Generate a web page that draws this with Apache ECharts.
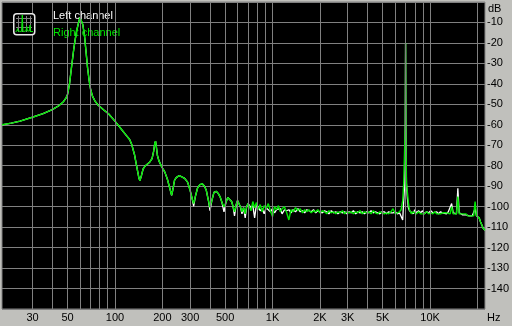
<!DOCTYPE html>
<html><head><meta charset="utf-8">
<script src="https://cdn.jsdelivr.net/npm/echarts@6/dist/echarts.min.js"></script>
<style>html,body{margin:0;padding:0;background:#C0C0BC;overflow:hidden}#c{width:512px;height:326px}</style>
</head><body><div id="c"></div>
<script>
// Frequencies (Hz)
const freqHz = [
  19.2,22,25,30,35,40,44,47,49,50,
  51.5,53,55,57,59,60,61,62.5,64,65.5,
  67,68.5,70,72,75,78,85,91,100,110,
  118,124,128,133,138,142,144,147,151,156,
  166,172,176,179,181,183,186,190,198,207,
  215,222,229,234,239,245,256,265,277,289,
  300,310,316,324,334,345,358,370,380,392,
  401,412,425,440,452,465,478,492,506,520,
  535,550,562,574,588,600,612,625,640,655,
  671,685,700,715,730,
  750,770,790,810,835,860,885,910,940,970,
  1000,1030,1060,1090,1120,1150,1190,1230,1270,1310,
  1350,1400,1450,1500,1550,1600,1650,1700,1760,1820,
  1880,1940,2000,2070,2140,2210,2280,2360,2440,2520,
  2600,2690,2780,2870,2960,3060,3160,3260,3370,3480,
  3590,3710,3830,3960,4090,4220,4360,4500,4650,4800,
  4960,5120,5290,5460,5640,5820,6010,6200,6400,6550,
  6700,6800,6900,6960,6990,7020,7080,7180,7280,7400,
  7600,7800,8000,8200,8450,8700,8950,9200,9500,9800,
  10100,10400,10700,11000,11300,11650,12000,12350,12700,13050,
  13400,13700,14000,14400,14700,15000,15300,15700,16100,16500,
  16900,17300,17700,18100,18500,18900,19300,19700,20100,20500,
  20900,21300,21700,22300
];
// Left channel level (dB)
const leftDb = [
  -60,-59.2,-58.2,-56.3,-54.5,-52.6,-50.7,-48.8,-46.8,-45.2,
  -40,-32,-22,-14.5,-9.5,-7.6,-8.5,-11,-16,-24,
  -32,-38,-42.5,-46,-48.6,-50.3,-52.8,-54.6,-58.2,-62.2,
  -65.2,-67.2,-69.8,-74.5,-81,-86,-87.3,-85,-81.5,-80,
  -78.3,-76.5,-73,-69,-68,-70.5,-75,-77.5,-80.5,-83,
  -86.5,-90.5,-94.5,-91,-87,-85.8,-84.8,-85.4,-86.2,-88,
  -92,-96.5,-99.8,-95,-91,-89.3,-88.8,-90,-92,-97,
  -102,-97,-93,-92.5,-93.5,-95.2,-98,-102.5,-98,-95.5,
  -95.2,-97.5,-100,-104.5,-99,-97,-97.5,-100,-103.5,-100.5,
  -105.5,-100,-98.5,-99,-100.5,
  -99.5,-105.5,-99,-100,-102,-101,-103.5,-100.5,-101.5,-102.5,
  -101,-103,-101.5,-102,-101,-103.5,-101.5,-102,-101.5,-103,
  -101.5,-102.5,-101,-102.5,-102,-103,-101.5,-102,-102.5,-101.5,
  -103,-102,-102.5,-103,-102,-102.5,-103.5,-102,-103,-102.5,
  -103.5,-102.5,-103,-102.5,-103.5,-102.5,-103,-102,-103.5,-102.5,
  -103,-102.5,-103.5,-102.5,-103,-102,-103,-102.5,-103,-103.5,
  -102.5,-102.5,-103.5,-102.5,-103,-103,-102.5,-103.5,-103,-102.5,
  -106.5,-97,-89,-60,-20,-62,-89,-96,-100.5,-102,
  -102.5,-103.5,-101.5,-103,-102,-103,-102,-103.5,-102.5,-103,
  -102,-103,-103.5,-102.5,-103.5,-102.5,-103,-102.5,-103.5,-102.5,
  -103,-98.5,-103,-102.5,-103.5,-91,-103,-103.5,-104,-103.5,
  -104,-103.5,-104.5,-104,-104.5,-104,-101,-104.5,-105,-105.5,
  -107.5,-109,-110.5,-111.5
];
// Right channel level (dB)
const rightDb = [
  -60,-59.2,-58.2,-56.3,-54.5,-52.6,-50.7,-48.8,-46.8,-45.2,
  -40,-32,-22,-14.5,-9.5,-7.6,-8.5,-11,-16,-24,
  -32,-38,-42.5,-46,-48.6,-50.3,-52.8,-54.6,-58.2,-62.2,
  -65.2,-67.2,-69.8,-74.5,-81,-86,-87.3,-85,-81.5,-80,
  -78.3,-76.5,-73,-69,-68,-70.5,-75,-77.5,-80.5,-83,
  -86.5,-90.5,-94.5,-91,-87,-85.8,-84.8,-85.4,-86.2,-88,
  -92,-96.5,-98.5,-95,-91,-89.3,-88.8,-90,-92,-97,
  -100.3,-97,-93,-92.5,-93.5,-95.2,-98,-100,-98,-95.5,
  -95.2,-97.5,-100,-102.5,-99,-97,-97.5,-100,-102.5,-100.5,
  -103.5,-100,-98.5,-99,-102,
  -97.5,-100.5,-98,-101.5,-99,-102.5,-99.5,-101,-98.5,-102,
  -104.8,-100,-101.5,-99.5,-102.5,-101,-100,-103,-106.5,-101.5,
  -102.5,-100.5,-102,-101,-103,-101.5,-102.5,-101.5,-103,-102,
  -102.5,-101.5,-103,-102,-102.5,-103.5,-102,-103,-102.5,-103.5,
  -102.5,-103,-102,-103.5,-102.5,-103,-102.5,-103.5,-102.5,-103,
  -102,-103.5,-102.5,-103,-102.5,-103.5,-102,-103,-103.5,-102.5,
  -103,-103.5,-103,-103.5,-102.5,-101,-103.5,-103,-102.5,-101.5,
  -97,-88.5,-88.3,-60,-20,-62,-88.3,-88.5,-98,-101.5,
  -103.5,-102.5,-103,-103.5,-102.5,-103.5,-103,-103.5,-102.5,-103.5,
  -103,-103.5,-102.5,-103.5,-103,-103.5,-103,-103.5,-103,-102.5,
  -103.5,-100,-103.5,-103,-103.5,-95,-103.5,-104,-103.5,-104,
  -103.5,-104.5,-104,-104.5,-104,-104.5,-97.5,-104.5,-104.5,-105.5,
  -107.5,-109,-110.5,-111.5
];
const seriesNames = ['Left channel', 'Right channel'];
const seriesColors = ['#FFFFFF', '#00E800'];
// Vertical grid lines and bottom tick labels (Hz)
const gridFreqs = [30,40,50,60,70,80,90,100,200,300,400,500,600,700,800,900,1000,2000,3000,4000,5000,6000,7000,8000,9000,10000,20000];
const labeledFreqs = [30,50,100,200,300,500,1000,2000,3000,5000,10000];
const yMin = -150, yMax = 0, yStep = 10;
const xUnit = 'Hz', yUnit = 'dB';

const FONT = 'Liberation Sans';
const GRID = '#808080';
function fmtHz(f) { return f >= 1000 ? (f / 1000) + 'K' : String(f); }

const chart = echarts.init(document.getElementById('c'), null, { renderer: 'canvas' });
chart.setOption({
  animation: false,
  backgroundColor: '#C0C0BC',
  textStyle: { fontFamily: FONT },
  grid: { left: 2, right: 27, top: 2, bottom: 17, show: true, backgroundColor: '#000', borderColor: GRID, borderWidth: 1 },
  legend: {
    orient: 'vertical', left: 43, top: 4, icon: 'none', itemWidth: 0, itemGap: 4,
    selectedMode: false,
    textStyle: { fontSize: 11, fontFamily: FONT },
    data: [
      { name: seriesNames[0], textStyle: { color: seriesColors[0] } },
      { name: seriesNames[1], textStyle: { color: seriesColors[1] } }
    ]
  },
  xAxis: {
    type: 'log', logBase: 10, min: 19.2, max: 22300,
    axisLine: { show: false }, axisTick: { show: false }, axisLabel: { show: false }, splitLine: { show: false }
  },
  yAxis: {
    type: 'value', position: 'right', min: yMin, max: yMax, interval: yStep,
    axisLine: { show: false }, axisTick: { show: false },
    splitLine: { show: true, lineStyle: { color: GRID, width: 1 } },
    axisLabel: { color: '#000', fontSize: 11, fontFamily: FONT, margin: 2,
      formatter: v => (v === yMin || v === yMax) ? '' : String(v) }
  },
  graphic: [
    { type: 'text', left: 488, top: 3, style: { text: yUnit, fill: '#000', font: '11px "Liberation Sans"' }, z: 20 },
    { type: 'text', left: 487, top: 312, style: { text: xUnit, fill: '#000', font: '11px "Liberation Sans"' }, z: 20 },
    { type: 'rect', left: 13, top: 13, shape: { width: 21, height: 21, r: 3 }, style: { fill: '#000', stroke: '#E8E8E8', lineWidth: 1.5 }, z: 10 },
    { type: 'line', shape: { x1: 18.5, y1: 16, x2: 18.5, y2: 32 }, style: { stroke: GRID, lineWidth: 1 }, z: 11 },
    { type: 'line', shape: { x1: 22.5, y1: 16, x2: 22.5, y2: 32 }, style: { stroke: GRID, lineWidth: 1 }, z: 11 },
    { type: 'line', shape: { x1: 26.5, y1: 16, x2: 26.5, y2: 32 }, style: { stroke: GRID, lineWidth: 1 }, z: 11 },
    { type: 'line', shape: { x1: 30.5, y1: 16, x2: 30.5, y2: 32 }, style: { stroke: GRID, lineWidth: 1 }, z: 11 },
    { type: 'line', shape: { x1: 16, y1: 18.5, x2: 32, y2: 18.5 }, style: { stroke: GRID, lineWidth: 1 }, z: 11 },
    { type: 'line', shape: { x1: 16, y1: 22.5, x2: 32, y2: 22.5 }, style: { stroke: GRID, lineWidth: 1 }, z: 11 },
    { type: 'line', shape: { x1: 16, y1: 27.5, x2: 32, y2: 27.5 }, style: { stroke: GRID, lineWidth: 1 }, z: 11 },
    { type: 'polyline', shape: { points: [[15.5,31.5],[17,31],[17.5,28.5],[18,31],[21.5,31.5],[22.3,15],[23,31.5],[26,31],[26.7,26.5],[27.4,31],[29.5,31],[30,25],[30.5,31.5],[33,31.5]] }, style: { stroke: '#00E800', lineWidth: 1, fill: null }, z: 12 }
  ],
  series: [
    {
      name: '_grid', type: 'line', data: [], silent: true, z: 1, clip: false,
      markLine: {
        silent: true, symbol: ['none', 'none'], animation: false,
        lineStyle: { color: GRID, width: 1, type: 'solid' },
        label: { show: true, position: 'start', distance: 3, color: '#000', fontSize: 11, fontFamily: FONT },
        emphasis: { disabled: true },
        data: gridFreqs.map(f => ({
          xAxis: f,
          label: { show: labeledFreqs.indexOf(f) >= 0, formatter: fmtHz(f) }
        }))
      }
    },
    {
      name: seriesNames[0], type: 'line', z: 3, silent: true, symbol: 'none',
      color: seriesColors[0], lineStyle: { color: seriesColors[0], width: 1.3 },
      data: freqHz.map((f, i) => [f, leftDb[i]])
    },
    {
      name: seriesNames[1], type: 'line', z: 4, silent: true, symbol: 'none',
      color: seriesColors[1], lineStyle: { color: seriesColors[1], width: 1.4 },
      data: freqHz.map((f, i) => [f, rightDb[i]])
    }
  ]
});
</script></body></html>
